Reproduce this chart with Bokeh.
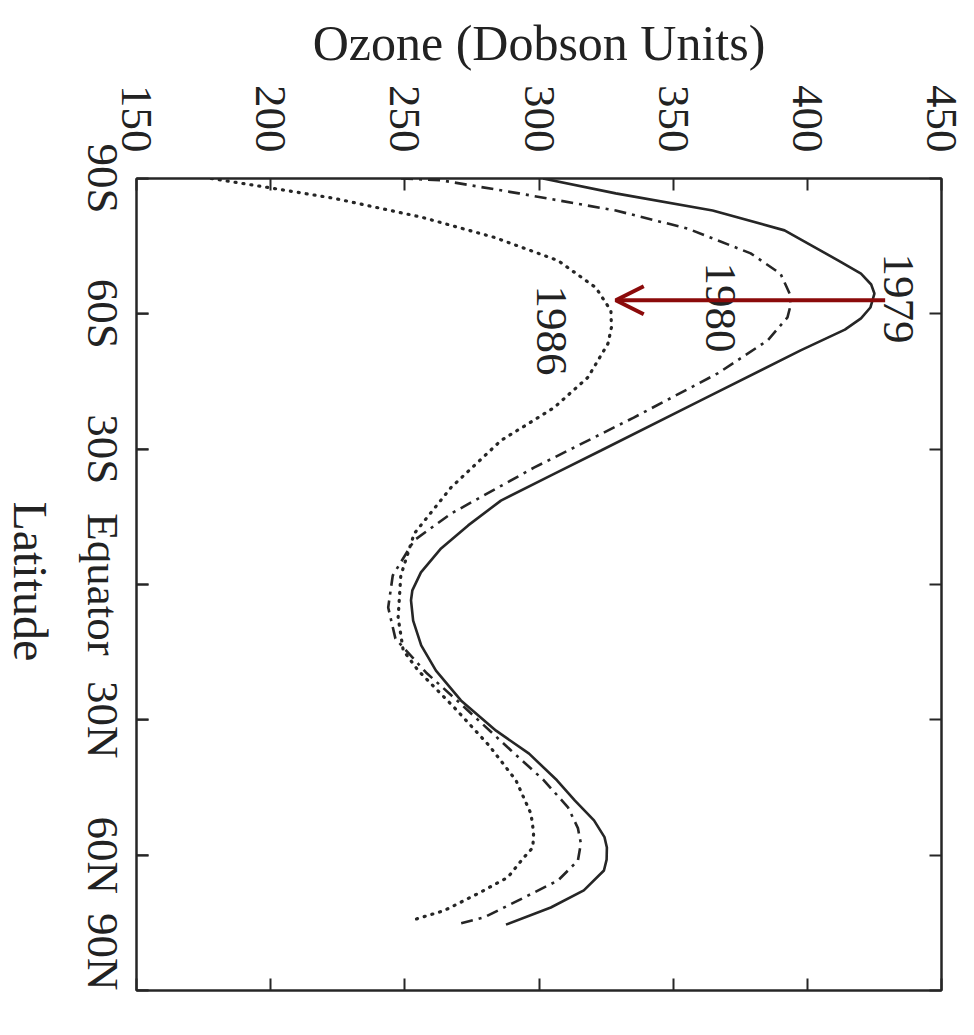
import math
from bokeh.plotting import figure
from bokeh.models import Range1d, LinearAxis, FixedTicker, Label, Arrow, OpenHead
from bokeh.embed import file_html
from bokeh.resources import INLINE

# ---- data ----
ozone_ticks = [150, 200, 250, 300, 350, 400, 450]
lat_ticks = [-90, -60, -30, 0, 30, 60, 90]
lat_labels = ["90S", "60S", "30S", "Equator", "30N", "60N", "90N"]

lat_1979 = [-90, -86.7, -82.9, -78.5, -71.8, -68.9, -66.5, -64.5, -61.4, -59.0, -56.5, -51.9, -40.8,
            -29.7, -24.2, -18.6, -13.1, -8.0, -2.7, 1.3, 3.5, 8.0, 13.5, 19.1, 25.7, 32.4, 37.5,
            43.4, 47.9, 52.3, 56.0, 58.3, 61.0, 63.4, 67.8, 71.6, 75.4]
oz_1979 = [301.5, 328.6, 364.7, 391.5, 411.6, 420.0, 423.8, 425.0, 423.5, 420.0, 414.0, 397.5, 360.3,
           323.1, 304.5, 285.8, 273.6, 263.5, 256.0, 252.8, 252.3, 253.1, 256.1, 261.6, 270.9, 284.0, 296.3,
           306.7, 313.4, 320.5, 324.4, 325.3, 325.2, 324.2, 316.7, 304.4, 287.7]

lat_1980 = [-90, -89.6, -86.7, -82.9, -78.9, -73.4, -68.9, -64.5, -62.0, -59.2, -54.1, -46.8, -37.0,
            -25.9, -15.7, -9.8, -2.0, 5.1, 12.0, 19.5, 26.0, 36.8, 43.4, 49.4, 54.0, 57.4, 61.2,
            65.6, 69.4, 73.8, 75.1]
oz_1980 = [248.6, 263.5, 292.5, 328.6, 355.4, 378.9, 390.0, 393.4, 393.8, 392.6, 385.2, 366.6, 335.3,
           298.1, 267.2, 253.5, 245.5, 243.8, 246.5, 257.9, 270.0, 289.6, 301.8, 310.8, 314.5, 315.6, 314.5,
           307.1, 294.4, 279.5, 271.0]

lat_1986 = [-90, -88.0, -85.6, -81.4, -76.9, -71.8, -65.8, -60.7, -57.0, -53.4, -45.9, -39.2, -31.9,
            -21.5, -11.3, -2.0, 7.3, 14.6, 19.1, 27.0, 35.7, 43.4, 50.8, 55.0, 58.3, 60.5, 64.9,
            68.5, 72.3, 74.5]
oz_1986 = [177.9, 199.1, 223.7, 256.4, 283.6, 307.1, 321.2, 326.8, 327.0, 325.7, 318.2, 305.6, 285.8,
           267.2, 253.5, 248.5, 247.5, 249.4, 255.0, 268.0, 281.4, 291.4, 297.0, 298.0, 297.7, 294.4, 288.4,
           277.3, 264.6, 252.3]

years = ["1979", "1980", "1986"]
year_label_oz = [434, 367.7, 304.8]
year_label_lat = [-63.4, -61.4, -56.3]

arrow_from = (429, -63)
arrow_to = (328.6, -63)

x_title = "Ozone (Dobson Units)"
y_title = "Latitude"
y_title_lat = -0.7

INK = "#262626"
TXT = "#222222"
FONT = "Liberation Serif"
TICK_PX = 45
YTITLE_PX = 48

# plotted vertical coordinate: south at the top (y = -latitude on a normal range)
def ys(lats):
    return [-v for v in lats]

FRAME_H = 812
PX_PER_DEG = FRAME_H / 180.0

# approximate advance widths (em) of the serif face, used to centre rotated labels on their ticks
EM = {"0": .5, "3": .5, "6": .5, "9": .5, "S": .556, "N": .722, "E": .611, "q": .5,
      "u": .5, "a": .444, "t": .278, "o": .5, "r": .333, "L": .611, "i": .278, "d": .5, "e": .444}


def half_len_deg(s, px):
    return sum(EM.get(c, .5) for c in s) * px / 2.0 / PX_PER_DEG


SHIFT = 26  # the left side panels reserve more room than their rotated texts use
p = figure(width=966 + SHIFT, height=1019,
           x_range=Range1d(150, 450), y_range=Range1d(-90, 90),
           x_axis_location="above", y_axis_location="left",
           output_backend="svg", toolbar_location=None,
           min_border_left=135, min_border_right=25,
           min_border_top=178, min_border_bottom=29)
p.margin = (0, 0, 0, -SHIFT)
p.grid.visible = False
p.outline_line_color = INK
p.outline_line_width = 2
p.background_fill_color = "white"
p.border_fill_color = "white"


def style_axis(ax, ticks, px=TICK_PX):
    ax.ticker = FixedTicker(ticks=ticks)
    ax.axis_line_color = INK
    ax.axis_line_width = 2
    ax.major_tick_line_color = INK
    ax.major_tick_line_width = 2
    ax.major_tick_in = 12
    ax.major_tick_out = 0
    ax.minor_tick_in = 0
    ax.minor_tick_out = 0
    ax.major_label_text_font = FONT
    ax.major_label_text_color = TXT
    ax.major_label_text_font_size = f"{px}px"


def hide_labels(ax, ticks):
    ax.major_label_overrides = {t: "" for t in ticks}
    ax.major_label_standoff = 0


def labels_only(ax):
    ax.axis_line_color = None
    ax.major_tick_line_color = None
    ax.major_tick_in = 0
    ax.major_label_orientation = -math.pi / 2


# top axis: ozone
xa = p.xaxis[0]
style_axis(xa, ozone_ticks)
xa.major_label_orientation = -math.pi / 2
xa.major_label_standoff = 26
xa.axis_label = x_title
xa.axis_label_text_font = FONT
xa.axis_label_text_font_size = "50px"
xa.axis_label_text_font_style = "normal"
xa.axis_label_text_color = TXT
xa.axis_label_standoff = 11

# left axis (inner): tick marks only
ya = p.yaxis[0]
style_axis(ya, ys(lat_ticks))
hide_labels(ya, ys(lat_ticks))

# left axis (middle): rotated latitude labels centred on the ticks
label_pos = [round(max(y - half_len_deg(s, TICK_PX), -90.0), 3) for y, s in zip(ys(lat_ticks), lat_labels)]
la = LinearAxis()
style_axis(la, label_pos)
labels_only(la)
la.major_label_standoff = 34
la.major_label_overrides = {y: s for y, s in zip(label_pos, lat_labels)}
p.add_layout(la, "left")

# left axis (outer): the rotated "Latitude" title, centred on the axis
t_pos = round(-y_title_lat - half_len_deg(y_title, YTITLE_PX), 3)
ta = LinearAxis()
style_axis(ta, [t_pos], YTITLE_PX)
labels_only(ta)
ta.major_label_standoff = 19
ta.major_label_overrides = {t_pos: y_title}
p.add_layout(ta, "left")

bx = LinearAxis()
style_axis(bx, ozone_ticks)
hide_labels(bx, ozone_ticks)
p.add_layout(bx, "below")
ry = LinearAxis()
style_axis(ry, ys(lat_ticks))
hide_labels(ry, ys(lat_ticks))
p.add_layout(ry, "right")

# inward tick marks on the left edge (same places as the inner left axis ticks)
p.ray(x=[ozone_ticks[0]] * len(lat_ticks), y=ys(lat_ticks), length=12, length_units="screen",
      angle=0, line_color=INK, line_width=2)

p.line(oz_1979, ys(lat_1979), line_color=INK, line_width=2.6)
p.line(oz_1980, ys(lat_1980), line_color=INK, line_width=2.6, line_dash="12 6 3 6")
p.line(oz_1986, ys(lat_1986), line_color=INK, line_width=3.2, line_dash="1 7", line_cap="round")

for t, x, y in zip(years, year_label_oz, ys(year_label_lat)):
    p.add_layout(Label(x=x, y=y, text=t, angle=-math.pi / 2, text_align="center",
                       text_baseline="middle", text_font=FONT, text_font_size="45px",
                       text_color=TXT))

p.add_layout(Arrow(x_start=arrow_from[0], y_start=-arrow_from[1], x_end=arrow_to[0], y_end=-arrow_to[1],
                   line_color="#8b0a0a", line_width=4,
                   end=OpenHead(size=28, line_color="#8b0a0a", line_width=4)))

open("out.html", "w").write(file_html(p, INLINE))
